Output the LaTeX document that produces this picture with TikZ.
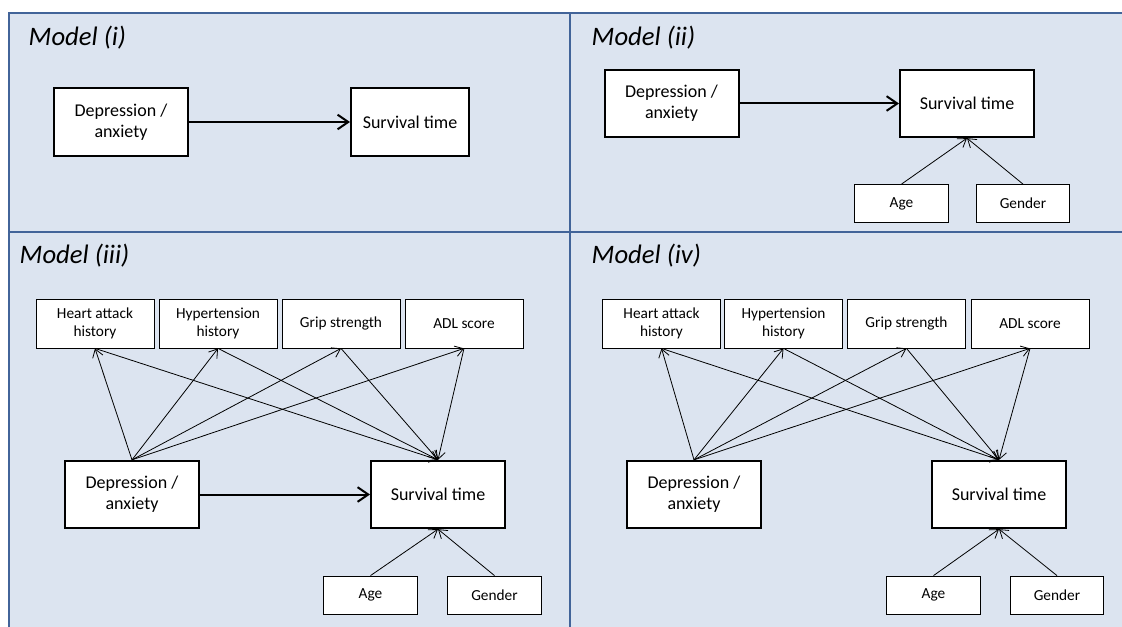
\documentclass[tikz,border=0pt]{standalone}
\usepackage{fontspec}
\setmainfont{Carlito}
\usetikzlibrary{arrows.meta}
\definecolor{panelfill}{RGB}{220,228,240}
\definecolor{panelline}{RGB}{66,100,153}
\tikzset{
  bigbox/.style={draw, line width=1.5pt, fill=white, align=center, inner sep=0pt,
    minimum width=100.5pt, minimum height=50.5pt, font=\fontsize{13.5}{16}\selectfont},
  smallbox/.style={draw, line width=0.6pt, fill=white, align=center, inner sep=0pt,
    minimum width=88.5pt, minimum height=36.75pt, font=\fontsize{11.5}{14}\selectfont},
  tinybox/.style={smallbox, minimum width=70pt, minimum height=28.5pt},
  title/.style={anchor=west, font=\fontsize{20}{23}\selectfont\itshape},
  link/.style={-{Straight Barb[length=6pt,width=8pt]}, line width=0.6pt},
  mainlink/.style={-{Straight Barb[length=8pt,width=11pt]}, line width=1.5pt},
}
\begin{document}
\begin{tikzpicture}[x=0.75pt,y=-0.75pt]
\useasboundingbox (0,0) rectangle (1122,627);
%
% fondo y marco
\fill[panelfill] (9,13) rectangle (1122,627);
\draw[panelline, line width=2pt] (9,627) -- (9,13) -- (1122,13);
\draw[panelline, line width=2pt] (9,232) -- (1122,232);
\draw[panelline, line width=2pt] (570,13) -- (570,627);
%
% Model (i)
\node[title] (t1) at (24,38) {Model (i)};
\node[bigbox] (d1) at (121,122) {Depression /\\anxiety};
\node[bigbox, minimum width=88.5pt] (s1) at (410,122) {Survival time};
\draw[mainlink] (d1) to (s1);
%
% Model (ii)
\node[title] (t2) at (587,38) {Model (ii)};
\node[bigbox] (d2) at (671.5,103.5) {Depression /\\anxiety};
\node[bigbox] (s2) at (967,103.5) {Survival time};
\node[tinybox] (a2) at (901.5,203.5) {Age};
\node[tinybox] (g2) at (1023,203.5) {Gender};
\draw[mainlink] (d2) to (s2);
\draw[link] (a2.north) to (s2.south);
\draw[link] (g2.north) to (s2.south);
%
% Model (iii)
\node[title] (t3) at (15,256) {Model (iii)};
\node[smallbox] (h3) at (95,323.5) {Heart attack\\history};
\node[smallbox] (p3) at (218,323.5) {Hypertension\\history};
\node[smallbox] (r3) at (341,323.5) {Grip strength};
\node[smallbox] (l3) at (464,323.5) {ADL score};
\node[bigbox] (d3) at (132,494.5) {Depression /\\anxiety};
\node[bigbox] (s3) at (438,494.5) {Survival time};
\node[tinybox] (a3) at (370.5,595) {Age};
\node[tinybox] (g3) at (494.5,595) {Gender};
\draw[mainlink] (d3) to (s3);
\draw[link] (d3.north) to (h3.south);
\draw[link] (d3.north) to (p3.south);
\draw[link] (d3.north) to (r3.south);
\draw[link] (d3.north) to (l3.south);
\draw[link] (h3.south) to (s3.north);
\draw[link] (p3.south) to (s3.north);
\draw[link] (r3.south) to (s3.north);
\draw[link] (l3.south) to (s3.north);
\draw[link] (a3.north) to (s3.south);
\draw[link] (g3.north) to (s3.south);
%
% Model (iv)
\node[title] (t4) at (587,256) {Model (iv)};
\node[smallbox] (h4) at (661.5,323.5) {Heart attack\\history};
\node[smallbox] (p4) at (783.5,323.5) {Hypertension\\history};
\node[smallbox] (r4) at (906.5,323.5) {Grip strength};
\node[smallbox] (l4) at (1030,323.5) {ADL score};
\node[bigbox] (d4) at (694,494.5) {Depression /\\anxiety};
\node[bigbox] (s4) at (999,494.5) {Survival time};
\node[tinybox] (a4) at (933.5,595) {Age};
\node[tinybox] (g4) at (1057,595) {Gender};
\draw[link] (d4.north) to (h4.south);
\draw[link] (d4.north) to (p4.south);
\draw[link] (d4.north) to (r4.south);
\draw[link] (d4.north) to (l4.south);
\draw[link] (h4.south) to (s4.north);
\draw[link] (p4.south) to (s4.north);
\draw[link] (r4.south) to (s4.north);
\draw[link] (l4.south) to (s4.north);
\draw[link] (a4.north) to (s4.south);
\draw[link] (g4.north) to (s4.south);
%
\end{tikzpicture}
\end{document}
